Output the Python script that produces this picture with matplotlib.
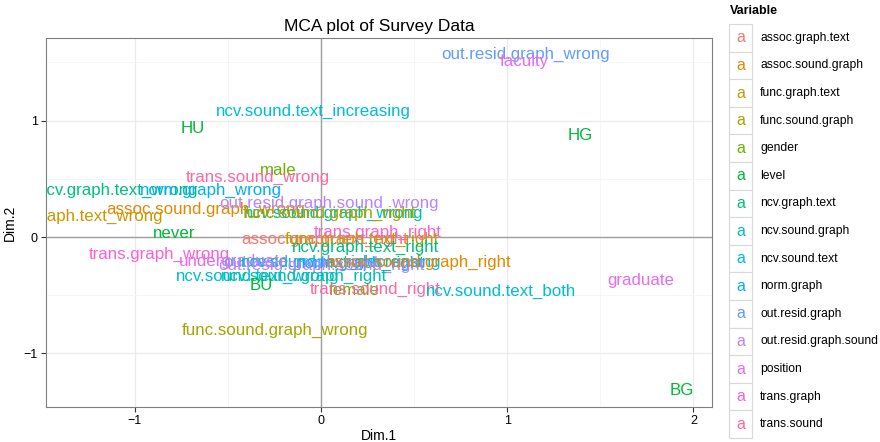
import matplotlib
matplotlib.use("Agg")
import matplotlib.pyplot as plt
from matplotlib.patches import Rectangle

plt.rcParams['font.family'] = ['Liberation Sans', 'DejaVu Sans']

# legend levels and ggplot hue colours
variables = ["assoc.graph.text", "assoc.sound.graph", "func.graph.text", "func.sound.graph",
             "gender", "level", "ncv.graph.text", "ncv.sound.graph", "ncv.sound.text",
             "norm.graph", "out.resid.graph", "out.resid.graph.sound", "position",
             "trans.graph", "trans.sound"]
colors = ["#F8766D", "#E58700", "#C99800", "#A3A500", "#6BB100", "#00BA38", "#00BF7D",
          "#00C0AF", "#00BCD8", "#00B0F6", "#619CFF", "#B983FF", "#E76BF3", "#FD61D1",
          "#FF67A4"]

# category labels, their variable and MCA coordinates
labels = ["out.resid.graph_wrong", "faculty", "ncv.sound.text_increasing", "HU", "HG",
          "male", "trans.sound_wrong", "ncv.graph.text_wrong", "norm.graph_wrong",
          "assoc.sound.graph_wrong", "func.graph.text_wrong", "out.resid.graph.sound_wrong",
          "ncv.sound.graph_wrong", "func.sound.graph_right", "never", "assoc.graph.text_right",
          "trans.graph_right", "func.graph.text_right", "ncv.graph.text_right",
          "trans.graph_wrong", "undergraduate", "out.resid.graph_right",
          "ncv.sound.text_decreasing", "norm.graph_right", "out.resid.graph.sound_right",
          "assoc.sound.graph_right", "ncv.sound.text_wrong", "ncv.sound.graph_right", "BU",
          "female", "trans.sound_right", "ncv.sound.text_both", "graduate",
          "func.sound.graph_wrong", "BG"]
label_var = ["out.resid.graph", "position", "ncv.sound.text", "level", "level",
             "gender", "trans.sound", "ncv.graph.text", "norm.graph",
             "assoc.sound.graph", "func.graph.text", "out.resid.graph.sound",
             "ncv.sound.graph", "func.sound.graph", "level", "assoc.graph.text",
             "trans.graph", "func.graph.text", "ncv.graph.text",
             "trans.graph", "position", "out.resid.graph",
             "ncv.sound.text", "norm.graph", "out.resid.graph.sound",
             "assoc.sound.graph", "ncv.sound.text", "ncv.sound.graph", "level",
             "gender", "trans.sound", "ncv.sound.text", "position",
             "func.sound.graph", "level"]
dim1 = [1.10, 1.09, -0.04, -0.69, 1.39, -0.23, -0.34, -1.09, -0.59, -0.62, -1.30, 0.04,
        0.065, 0.045, -0.79, 0.02, 0.305, 0.22, 0.24, -0.87, -0.47, -0.11, 0.11, 0.21, 0.0,
        0.52, -0.34, -0.09, -0.32, 0.18, 0.29, 0.965, 1.715, -0.25, 1.94]
dim2 = [1.57, 1.51, 1.08, 0.93, 0.87, 0.575, 0.515, 0.40, 0.40, 0.24, 0.18, 0.29,
        0.205, 0.205, 0.03, -0.02, 0.04, -0.02, -0.09, -0.15, -0.21, -0.22, -0.215, -0.23,
        -0.24, -0.22, -0.34, -0.335, -0.42, -0.46, -0.45, -0.47, -0.37, -0.80, -1.32]

col_of = dict(zip(variables, colors))

fig = plt.figure(figsize=(8.8, 4.42), dpi=100)
ax = fig.add_axes([46 / 880, 1 - 407 / 442, 666 / 880, 369 / 442])

for lab, v, x, y in zip(labels, label_var, dim1, dim2):
    ax.text(x, y, lab, color=col_of[v], fontsize=12.2, ha='center', va='center',
            clip_on=True)

ax.axhline(0, color='#a0a0a0', lw=1, zorder=1)
ax.axvline(0, color='#a0a0a0', lw=1, zorder=1)

ax.set_xlim(-1.478, 2.10)
ax.set_ylim(-1.46, 1.71)
ax.set_xticks([-1, 0, 1, 2])
ax.set_xticklabels(['\u22121', '0', '1', '2'])
ax.set_yticks([-1, 0, 1])
ax.set_yticklabels(['\u22121', '0', '1'])
ax.set_xticks([-0.5, 0.5, 1.5], minor=True)
ax.set_yticks([-0.5, 0.5, 1.5], minor=True)
ax.grid(True, which='major', color='#ebebeb', lw=0.9, zorder=0)
ax.grid(True, which='minor', color='#f5f5f5', lw=0.6, zorder=0)
ax.set_axisbelow(True)
ax.tick_params(which='major', length=3.5, width=0.8, color='#333333', labelsize=9,
               labelcolor='black', pad=2.5)
ax.tick_params(which='minor', length=0)
for s in ax.spines.values():
    s.set_color('#7f7f7f')
    s.set_linewidth(0.8)

ax.set_xlabel("Dim.1", fontsize=10, labelpad=1)
ax.set_ylabel("Dim.2", fontsize=10, labelpad=5)
ax.set_title("MCA plot of Survey Data", fontsize=12.5, pad=5)

# legend drawn by hand
fig.text(730 / 880, 1 - 11 / 442, "Variable", fontsize=9, fontweight='bold',
         ha='left', va='center')
key_h = 27.6
for i, (v, c) in enumerate(zip(variables, colors)):
    top = 24 + i * key_h
    fig.patches.append(Rectangle((729 / 880, 1 - (top + key_h) / 442), 23 / 880, key_h / 442,
                                 transform=fig.transFigure, facecolor='white',
                                 edgecolor='#d9d9d9', lw=0.8))
    yc = 1 - (top + key_h / 2) / 442
    fig.text(740.5 / 880, yc, "a", color=c, fontsize=11.5, ha='center', va='center')
    fig.text(760 / 880, yc, v, fontsize=8.7, ha='left', va='center')

fig.savefig("out.png", dpi=100)
